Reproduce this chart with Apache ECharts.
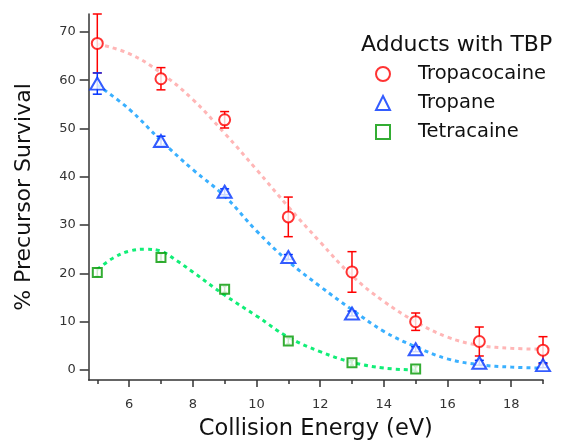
<!DOCTYPE html>
<html>
<head>
<meta charset="utf-8">
<script src="https://cdn.jsdelivr.net/npm/echarts@6/dist/echarts.min.js"></script>
<style>
html,body{margin:0;padding:0;background:#fff;}
#chart{width:563px;height:440px;}
</style>
</head>
<body>
<div id="chart"></div>
<script>
// ---- data ----
const energies = [5, 7, 9, 11, 13, 15, 17, 19];
const tropacocaine = [67.6, 60.3, 51.8, 31.7, 20.3, 10.0, 5.9, 4.1];
const tropacocaineErr = [6.1, 2.3, 1.7, 4.1, 4.2, 1.8, 3.0, 2.8];
const tropane = [59.3, 47.4, 36.9, 23.4, 11.7, 4.3, 1.5, 1.0];
const tropaneErr = [2.2, 1.0, 0.6, 0.5, 0.5, 0.5, 0.5, 0.5];
const tetracaineX = [5, 7, 9, 11, 13, 15];
const tetracaine = [20.2, 23.3, 16.7, 6.0, 1.5, 0.2];
const tetracaineErr = [0.8, 0.8, 0.6, 0.6, 0.5, 0.5];

// fitted curves
const fitRedX = [5, 6, 7, 8, 9, 10, 11, 12, 13, 14, 15, 16, 17, 18, 19];
const fitRedY = [67.5, 65.5, 61.5, 56, 49, 41.5, 33.8, 26.5, 19.5, 14.2, 10.0, 6.8, 5.1, 4.5, 4.3];
const fitBlueX = [5, 6, 7, 8, 9, 10, 11, 12, 13, 14, 15, 16, 17, 18, 19];
const fitBlueY = [59, 54, 47.5, 41.5, 36, 28.8, 22.5, 17.3, 12.5, 8.0, 4.8, 2.3, 1.1, 0.6, 0.4];
const fitGreenX = [5, 5.5, 6, 6.5, 7, 7.5, 8, 9, 10, 11, 12, 13, 14, 15];
const fitGreenY = [20.8, 23.2, 24.6, 25.0, 24.6, 22.6, 20.3, 15.5, 11.2, 6.8, 3.8, 1.6, 0.4, 0.0];

const xMajorTicks = [6, 8, 10, 12, 14, 16, 18];
const xMinorTicks = [5, 7, 9, 11, 13, 15, 17, 19];
const yTicks = [0, 10, 20, 30, 40, 50, 60, 70];

const FONT = 'DejaVu Sans';
const X_MIN = 4.73, X_MAX = 19.0, Y_MIN = -2.07, Y_MAX = 73.7;

function pairs(xs, ys) { return xs.map((x, i) => [x, ys[i]]); }
function triples(xs, ys, es) { return xs.map((x, i) => [x, ys[i], es[i]]); }

function errRender(color, capHalf) {
  return function (params, api) {
    const x = api.value(0), y = api.value(1), e = api.value(2);
    const t = api.coord([x, y + e]);
    const b = api.coord([x, y - e]);
    const st = { stroke: color, lineWidth: 1.5 };
    return {
      type: 'group',
      children: [
        { type: 'line', shape: { x1: t[0], y1: t[1], x2: b[0], y2: b[1] }, style: st },
        { type: 'line', shape: { x1: t[0] - capHalf, y1: t[1], x2: t[0] + capHalf, y2: t[1] }, style: st },
        { type: 'line', shape: { x1: b[0] - capHalf, y1: b[1], x2: b[0] + capHalf, y2: b[1] }, style: st }
      ]
    };
  };
}

const chart = echarts.init(document.getElementById('chart'), null, { renderer: 'canvas' });

const fitLine = (name, xs, ys, color) => ({
  name: name, type: 'line', data: pairs(xs, ys), smooth: 0.4, showSymbol: false,
  symbol: 'none', silent: true, z: 1,
  lineStyle: { color: color, width: 3, type: [4, 4] }
});

chart.setOption({
  animation: false,
  backgroundColor: '#fff',
  textStyle: { fontFamily: FONT },
  title: {
    text: 'Adducts with TBP', left: 356, top: 29,
    textStyle: { fontFamily: FONT, fontSize: 22, fontWeight: 'normal', color: '#111' }
  },
  legend: {
    data: ['Tropacocaine', 'Tropane', 'Tetracaine'],
    orient: 'vertical', left: 370, top: 59,
    itemWidth: 14, itemHeight: 14, itemGap: 9,
    textStyle: { fontFamily: FONT, fontSize: 19.5, color: '#111', padding: [0, 0, 0, 23] }
  },
  grid: { left: 88.7, right: 20, top: 14, bottom: 60, containLabel: false, outerBoundsMode: 'none' },
  xAxis: [{
    type: 'value', min: X_MIN, max: X_MAX,
    name: 'Collision Energy (eV)', nameLocation: 'middle', nameGap: 38,
    nameTextStyle: { fontFamily: FONT, fontSize: 22.5, color: '#111' },
    axisLine: { show: true, onZero: false, lineStyle: { color: '#333', width: 1.5 } },
    axisTick: { show: true, customValues: xMajorTicks, length: 7, inside: false, lineStyle: { color: '#333', width: 1.5 } },
    axisLabel: { customValues: xMajorTicks, fontFamily: FONT, fontSize: 13, color: '#333', margin: 18 },
    splitLine: { show: false }
  }, {
    type: 'value', min: X_MIN, max: X_MAX, position: 'bottom',
    axisLine: { show: false, onZero: false },
    axisTick: { show: true, customValues: xMinorTicks, length: 4, inside: false, lineStyle: { color: '#333', width: 1.5 } },
    axisLabel: { show: false },
    splitLine: { show: false }
  }],
  yAxis: {
    type: 'value', min: Y_MIN, max: Y_MAX,
    name: '% Precursor Survival', nameLocation: 'middle', nameGap: 53,
    nameTextStyle: { fontFamily: FONT, fontSize: 22, color: '#111' },
    axisLine: { show: true, onZero: false, lineStyle: { color: '#333', width: 1.5 } },
    axisTick: { show: true, customValues: yTicks, length: 9, inside: false, lineStyle: { color: '#333', width: 1.5 } },
    axisLabel: { customValues: yTicks, fontFamily: FONT, fontSize: 13, color: '#333', margin: 13 },
    splitLine: { show: false }
  },
  series: [
    fitLine('fitRed', fitRedX, fitRedY, '#ffb6b6'),
    fitLine('fitBlue', fitBlueX, fitBlueY, '#3ab0ff'),
    fitLine('fitGreen', fitGreenX, fitGreenY, '#11ee77'),
    { type: 'custom', renderItem: errRender('#ff0000', 4.5), data: triples(energies, tropacocaine, tropacocaineErr), z: 2, silent: true },
    { type: 'custom', renderItem: errRender('#0033ff', 4.5), data: triples(energies, tropane, tropaneErr), z: 2, silent: true },
    { type: 'custom', renderItem: errRender('#009900', 2), data: triples(tetracaineX, tetracaine, tetracaineErr), z: 2, silent: true },
    {
      name: 'Tropacocaine', type: 'scatter', data: pairs(energies, tropacocaine), z: 3,
      symbol: 'emptyCircle', symbolSize: 11,
      itemStyle: { color: '#ff0000', borderColor: '#ff0000', borderWidth: 2.5 }
    },
    {
      name: 'Tropane', type: 'scatter', data: pairs(energies, tropane), z: 3,
      symbol: 'emptyTriangle', symbolSize: [14, 12],
      itemStyle: { color: '#0033ff', borderColor: '#0033ff', borderWidth: 2.5 }
    },
    {
      name: 'Tetracaine', type: 'scatter', data: pairs(tetracaineX, tetracaine), z: 3,
      symbol: 'emptyRect', symbolSize: 9,
      itemStyle: { color: '#009900', borderColor: '#009900', borderWidth: 2.5 }
    }
  ]
});
</script>
</body>
</html>
